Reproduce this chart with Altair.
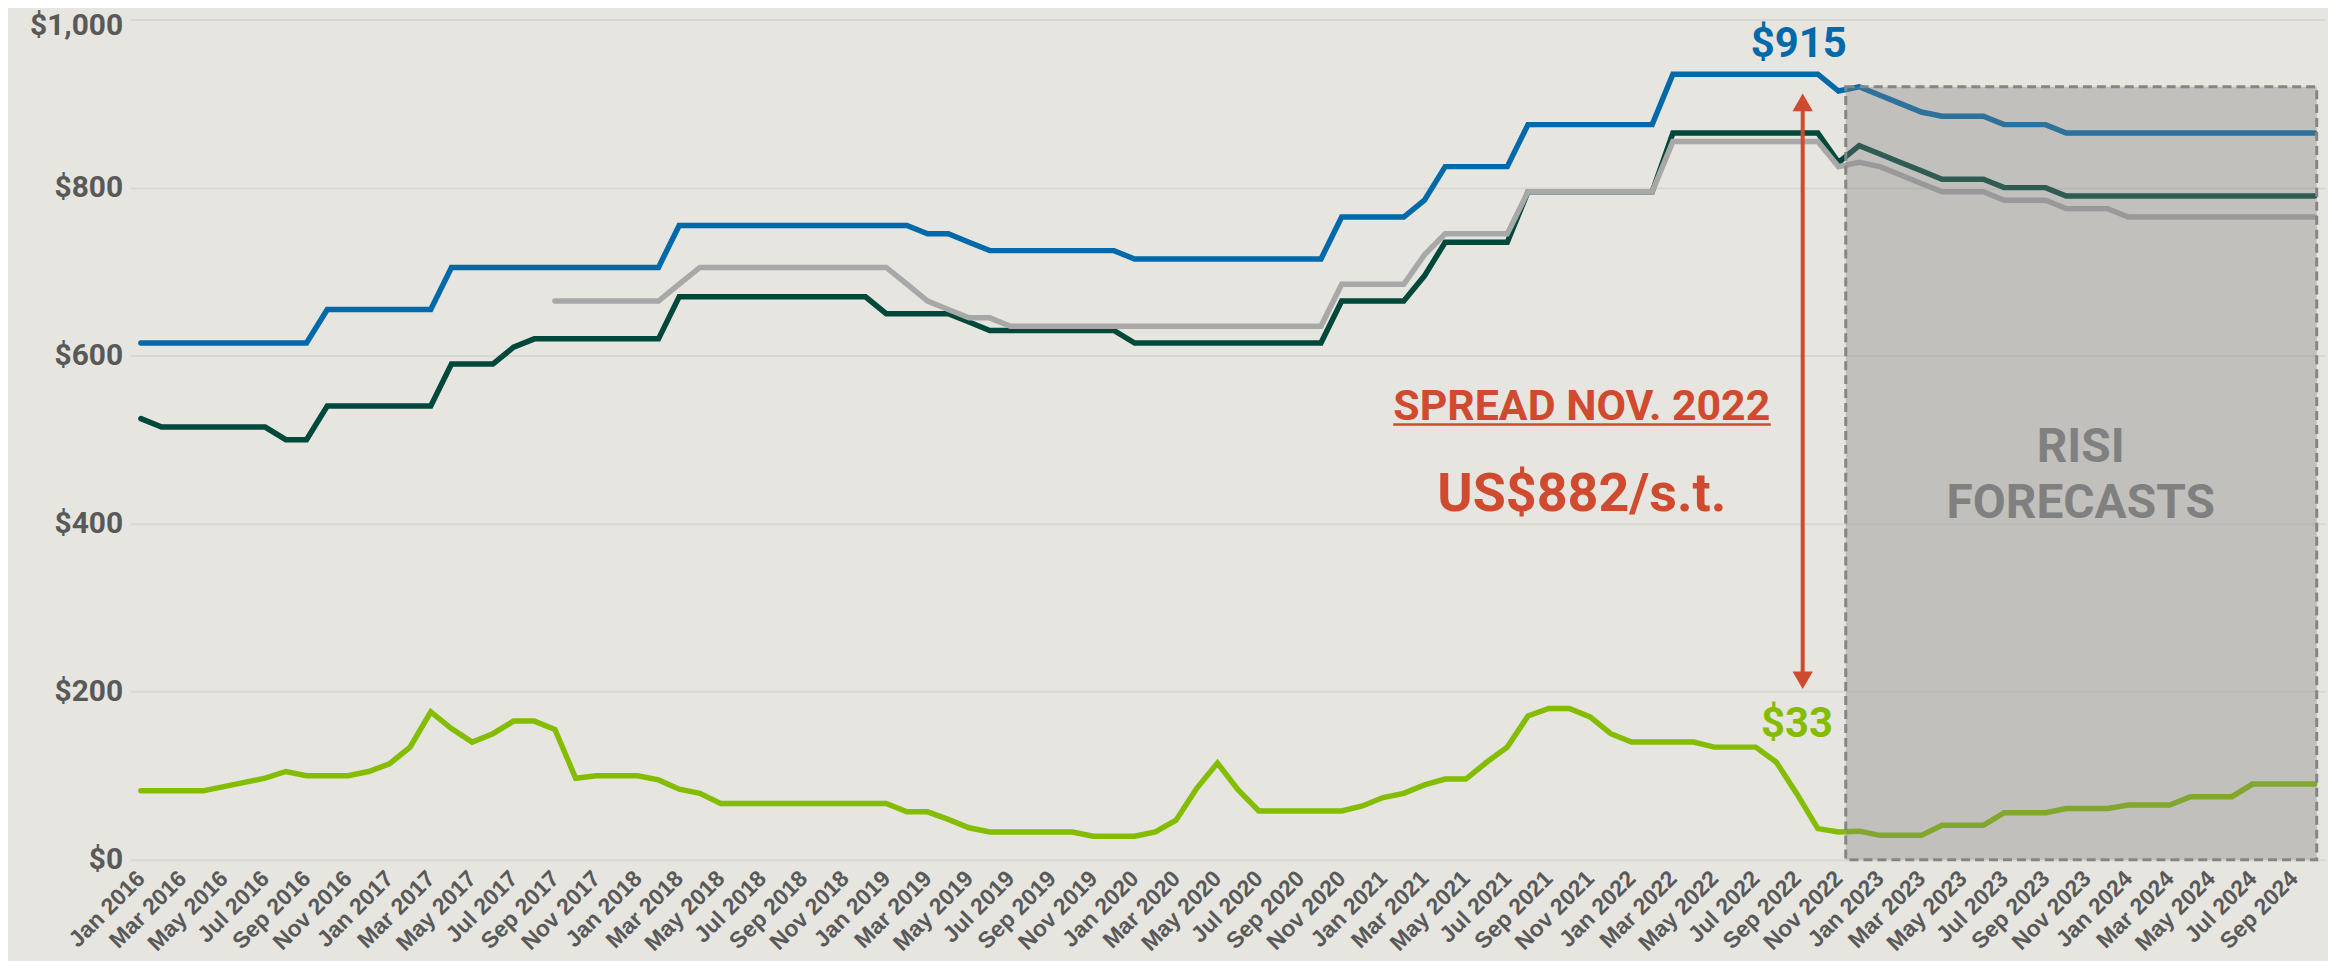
import altair as alt
import pandas as pd

# ---------------- data ----------------
TICK_LABELS = [
    "Jan 2016", "Mar 2016", "May 2016", "Jul 2016", "Sep 2016", "Nov 2016",
    "Jan 2017", "Mar 2017", "May 2017", "Jul 2017", "Sep 2017", "Nov 2017",
    "Jan 2018", "Mar 2018", "May 2018", "Jul 2018", "Sep 2018", "Nov 2018",
    "Jan 2019", "Mar 2019", "May 2019", "Jul 2019", "Sep 2019", "Nov 2019",
    "Jan 2020", "Mar 2020", "May 2020", "Jul 2020", "Sep 2020", "Nov 2020",
    "Jan 2021", "Mar 2021", "May 2021", "Jul 2021", "Sep 2021", "Nov 2021",
    "Jan 2022", "Mar 2022", "May 2022", "Jul 2022", "Sep 2022", "Nov 2022",
    "Jan 2023", "Mar 2023", "May 2023", "Jul 2023", "Sep 2023", "Nov 2023",
    "Jan 2024", "Mar 2024", "May 2024", "Jul 2024", "Sep 2024",
]
TICK_VALUES = list(range(0, 105, 2))  # month index of every tick label
MONTH_INDEX = list(range(106))        # Jan 2016 .. Oct 2024

BLUE = ([615] * 9 + [655] * 6 + [705] * 11 + [755] * 12 + [745, 745, 735]
        + [725] * 7 + [715] * 10 + [765] * 4 + [785] + [825] * 4 + [875] * 7
        + [935] * 8 + [915, 920, 910, 900, 890] + [885] * 3 + [875] * 3
        + [865] * 13)

DARK_GREEN = ([525] + [515] * 6 + [500] * 2 + [540] * 6 + [590] * 3 + [610]
              + [620] * 7 + [670] * 10 + [650] * 4 + [640] + [630] * 7
              + [615] * 10 + [665] * 4 + [695] + [735] * 4 + [795] * 7
              + [865] * 8 + [830, 850, 840, 830, 820] + [810] * 3 + [800] * 3
              + [790] * 13)

GRAY = ([None] * 20 + [665] * 6 + [685] + [705] * 10 + [685, 665, 655]
        + [645] * 2 + [635] * 16 + [685] * 4 + [720] + [745] * 4 + [795] * 7
        + [855] * 8 + [825, 830, 825, 815, 805] + [795] * 3 + [785] * 3
        + [775] * 3 + [765] * 10)

LIGHT_GREEN = ([82] * 4 + [87, 92, 97, 105] + [100] * 3
               + [105, 114, 134, 176, 156, 140, 150] + [165] * 2 + [155, 97]
               + [100] * 3 + [95, 84, 79] + [67] * 9 + [57] * 2 + [48, 38]
               + [33] * 5 + [28] * 3 + [33, 47, 85, 115, 83] + [58] * 5
               + [64, 74, 79, 89] + [96] * 2 + [116, 134, 171] + [180] * 2
               + [170, 150] + [140] * 4 + [134] * 3 + [116, 78, 37, 33, 34]
               + [29] * 3 + [41] * 3 + [56] * 3 + [61] * 3 + [65] * 3
               + [75] * 3 + [90] * 4)

SERIES = {
    "dark_green": (DARK_GREEN, "#00483a"),
    "gray": (GRAY, "#a8a8a8"),
    "blue": (BLUE, "#0069aa"),
    "light_green": (LIGHT_GREEN, "#84bd00"),
}

# annotation anchors (data coordinates: month index, US$)
FORECAST_BOX = {"x": 82.35, "x2": 105.1, "y": 0, "y2": 920}
ARROW_X = 80.27
ARROW_TOP, ARROW_BOTTOM = 901.5, 213.6

BG = "#e6e5e0"
RED = "#d04a2f"

xscale = alt.Scale(domain=[-0.5, 105.5], nice=False, zero=False)
yscale = alt.Scale(domain=[0, 1000], nice=False)

labels_js = "[" + ",".join("'%s'" % s for s in TICK_LABELS) + "]"

x_axis = alt.Axis(
    values=TICK_VALUES, labelExpr=labels_js + "[round(datum.value / 2)]",
    labelAngle=-45, labelAlign="right", labelBaseline="middle",
    labelFont="Liberation Sans", labelFontSize=23, labelFontWeight="bold",
    labelColor="#595959", labelPadding=15, labelOverlap=False,
    grid=False, domain=False, ticks=False, title=None,
)
y_axis = alt.Axis(
    values=[0, 200, 400, 600, 800, 1000],
    labelExpr="'$' + format(datum.value, ',')",
    labelFont="Roboto", labelFontSize=30, labelFontWeight="bold",
    labelColor="#595959", labelPadding=8,
    labelOffset={"condition": {"test": "datum.value == 1000", "value": 6}, "value": 0},
    grid=True, gridColor="#d8d7d2", gridWidth=2,
    domain=False, ticks=False, title=None,
)


def X(field):
    return alt.X(field, scale=xscale, axis=x_axis)


def Y(field):
    return alt.Y(field, scale=yscale, axis=y_axis)


layers = []
for name, (vals, color) in SERIES.items():
    df = pd.DataFrame({"month": MONTH_INDEX, "value": vals}).dropna()
    layers.append(
        alt.Chart(df).mark_line(color=color, strokeWidth=5.5, strokeCap="round")
        .encode(x=X("month:Q"), y=Y("value:Q"))
    )

box_df = pd.DataFrame([FORECAST_BOX])
box = alt.Chart(box_df).mark_rect(
    fill="#7f7f7f", fillOpacity=0.36, stroke="#858585", strokeOpacity=1,
    strokeWidth=3, strokeDash=[9, 5]
).encode(x=X("x:Q"), x2="x2:Q", y=Y("y:Q"), y2="y2:Q")

arrow_df = pd.DataFrame({"x": [ARROW_X], "y": [ARROW_BOTTOM + 2], "y2": [ARROW_TOP - 2]})
arrow_line = alt.Chart(arrow_df).mark_rule(color=RED, strokeWidth=4).encode(
    x=X("x:Q"), y=Y("y:Q"), y2="y2:Q",
)
heads_df = pd.DataFrame({
    "x": [ARROW_X, ARROW_X], "y": [ARROW_TOP, ARROW_BOTTOM],
    "shape": ["triangle-up", "triangle-down"],
})
heads = alt.Chart(heads_df).mark_point(filled=True, size=420, color=RED, opacity=1).encode(
    x=X("x:Q"), y=Y("y:Q"),
    shape=alt.Shape("shape:N", scale=None, legend=None),
)

underline_df = pd.DataFrame({"x": [60.49], "x2": [78.73], "y": [518.0]})
underline = alt.Chart(underline_df).mark_rule(color=RED, strokeWidth=2.5).encode(
    x=X("x:Q"), x2="x2:Q", y=Y("y:Q"),
)


def label(text, x, y, color, size):
    d = pd.DataFrame({"x": [x], "y": [y], "t": [text]})
    return alt.Chart(d).mark_text(
        font="Roboto", fontWeight="bold", fontSize=size, color=color,
        align="center", baseline="alphabetic"
    ).encode(x=X("x:Q"), y=Y("y:Q"), text="t:N")


texts = [
    label("$915", 80.08, 955.5, "#0069aa", 42),
    label("$33", 80.0, 146, "#84bd00", 42),
    label("SPREAD NOV. 2022", 69.6, 523.4, RED, 43),
    label("US$882/s.t.", 69.6, 415.4, RED, 54),
    label("RISI", 93.7, 473.6, "#808080", 48),
    label("FORECASTS", 93.7, 407.0, "#808080", 48),
]

chart = alt.layer(
    *layers, box, arrow_line, heads, underline, *texts
).properties(
    width=2202, height=843,
    autosize=alt.AutoSizeParams(type="none"),
    padding={"left": 123, "top": 10, "right": 3, "bottom": 100},
    background=BG,
).configure_view(stroke=None)

chart.save("out.html", embed_options={"renderer": "svg", "actions": False})
